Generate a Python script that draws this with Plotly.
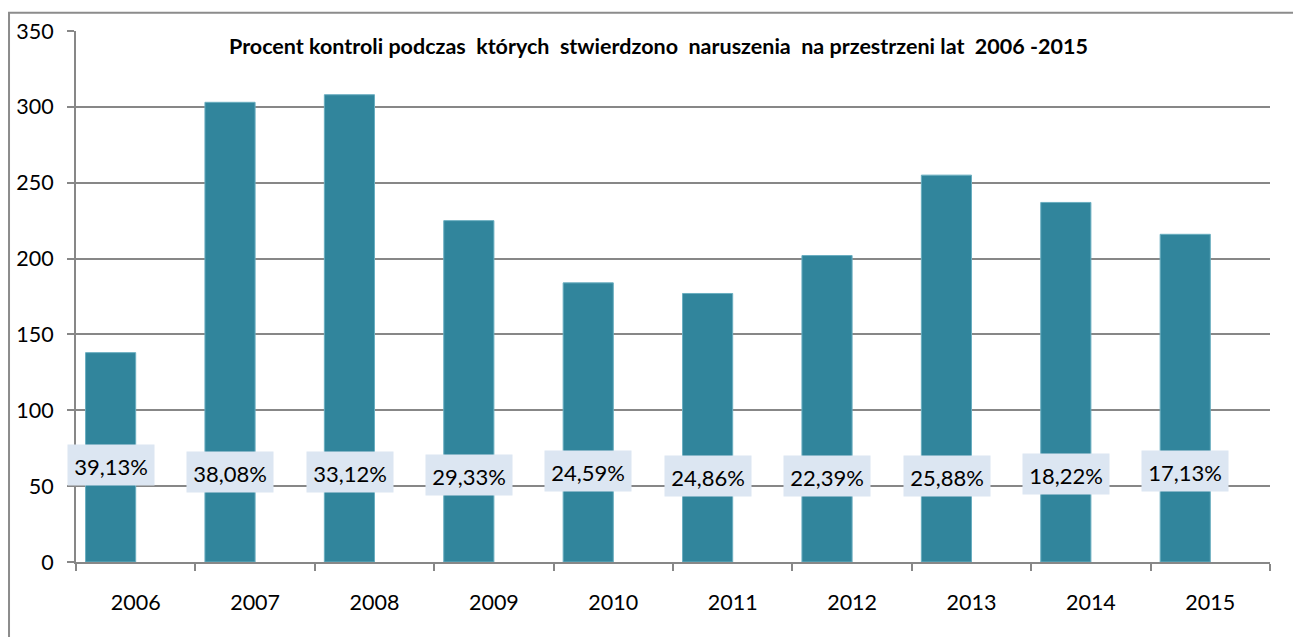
import plotly.graph_objects as go

# Data
years = ["2006", "2007", "2008", "2009", "2010", "2011", "2012", "2013", "2014", "2015"]
kontrole = [138, 303, 308, 225, 184, 177, 202, 255, 237, 216]
procent = ["39,13%", "38,08%", "33,12%", "29,33%", "24,59%", "24,86%", "22,39%", "25,88%", "18,22%", "17,13%"]

# vertical placement of the percentage labels (y-axis units)
label_y = [64, 59.3, 59.3, 57.3, 60, 56.7, 56.7, 56.7, 58, 60]

GRID = "#878787"
BAR = "#31859C"
FONT = "Lato"

fig = go.Figure()
fig.add_trace(go.Bar(
    x=years, y=kontrole,
    width=0.42, offset=-0.42,
    marker=dict(color=BAR, line=dict(color="#6aaec0", width=1)),
    hoverinfo="x+y",
))

annotations = [
    dict(
        x=i, y=ly, xref="x", yref="y", text=txt, showarrow=False,
        xshift=-25, width=76, height=30, borderpad=5,
        bgcolor="#DCE6F2", valign="bottom",
        font=dict(family=FONT, size=22, color="#000000"),
    )
    for i, (ly, txt) in enumerate(zip(label_y, procent))
]
annotations.append(dict(
    x=0.488, y=0.972, xref="paper", yref="paper", showarrow=False,
    text="<b>Procent kontroli podczas  których  stwierdzono  naruszenia  na przestrzeni lat  2006 -2015</b>",
    font=dict(family=FONT, size=21.5, color="#000000"),
    xanchor="center", yanchor="middle",
))

fig.update_layout(
    width=1293, height=637,
    margin=dict(l=76, r=23, t=31, b=75),
    paper_bgcolor="white", plot_bgcolor="white",
    showlegend=False,
    annotations=annotations,
    shapes=[dict(
        type="rect", xref="paper", yref="paper",
        x0=-0.0561, x1=1.03, y0=-0.16, y1=1.0345,
        line=dict(color="#8c8c8c", width=2), fillcolor="rgba(0,0,0,0)",
        layer="below",
    )],
    xaxis=dict(
        type="category", range=[-0.5, len(years) - 0.5],
        showline=True, linecolor=GRID, linewidth=2,
        ticks="outside", tickson="boundaries", ticklen=7, tickcolor=GRID, tickwidth=2,
        showgrid=False, tickangle=0,
        tickfont=dict(family=FONT, size=21.5, color="#000000"),
        ticklabelstandoff=20,
    ),
    yaxis=dict(
        range=[0, 350], dtick=50, showline=True, linecolor=GRID, linewidth=2,
        ticks="outside", ticklen=7, tickcolor=GRID, tickwidth=2,
        showgrid=True, gridcolor=GRID, gridwidth=2,
        zeroline=False,
        tickfont=dict(family=FONT, size=21.5, color="#000000"),
        ticklabelstandoff=9,
    ),
)

fig.write_html("out.html")
